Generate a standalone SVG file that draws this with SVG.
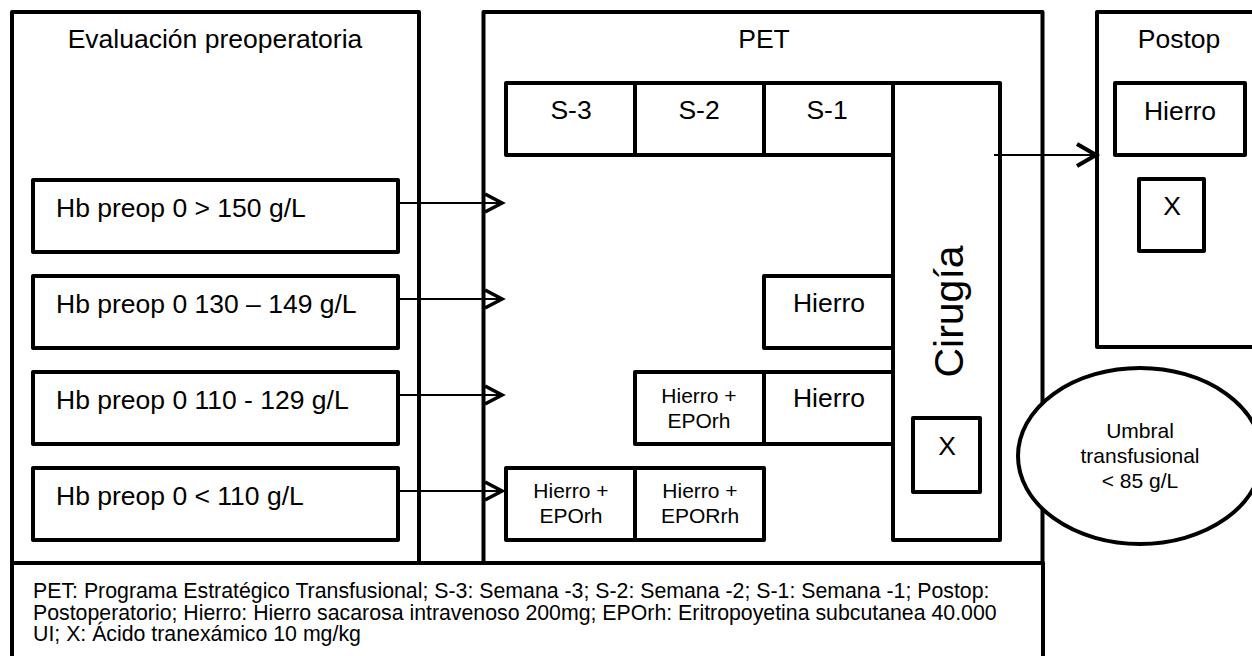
<svg xmlns="http://www.w3.org/2000/svg" width="1252" height="656" viewBox="0 0 1252 656">
<defs>
<style>
.box{fill:#fff;stroke:#000;stroke-width:4;stroke-linejoin:round}
.t{font-family:"Liberation Sans",Arial,sans-serif;font-size:26.5px;fill:#000}
.s{font-family:"Liberation Sans",Arial,sans-serif;font-size:21px;fill:#000}
.lg{font-family:"Liberation Sans",Arial,sans-serif;font-size:21.3px;fill:#000}
.c{text-anchor:middle}
.conn{stroke:#000;stroke-width:2.2;fill:none}
</style>
<marker id="chev" markerUnits="userSpaceOnUse" markerWidth="30" markerHeight="30" viewBox="-24 -15 30 30" refX="0" refY="0" orient="auto">
<path d="M-17,-9 L0,0 L-17,9" fill="none" stroke="#000" stroke-width="3.6"/>
</marker>
<marker id="chev2" markerUnits="userSpaceOnUse" markerWidth="34" markerHeight="34" viewBox="-26 -17 34 34" refX="0" refY="0" orient="auto">
<path d="M-19,-11 L0,0 L-19,11" fill="none" stroke="#000" stroke-width="4.2"/>
</marker>
</defs>
<rect width="1252" height="656" fill="#fff"/>

<g id="legend">
<rect class="box" x="12" y="563" width="1031" height="120"/>
<text class="lg" x="33" y="598">PET: Programa Estratégico Transfusional; S-3: Semana -3; S-2: Semana -2; S-1: Semana -1; Postop:</text>
<text class="lg" x="33" y="619.5">Postoperatorio; Hierro: Hierro sacarosa intravenoso 200mg; EPOrh: Eritropoyetina subcutanea 40.000</text>
<text class="lg" x="33" y="641">UI; X: Ácido tranexámico 10 mg/kg</text>
</g>

<g id="evaluacion">
<rect class="box" x="12" y="12" width="407" height="551"/>
<text class="t c" x="215" y="48">Evaluación preoperatoria</text>
</g>

<g id="hb1"><rect class="box" x="33" y="180" width="365" height="72"/><text class="t" x="56" y="217">Hb preop 0 &gt; 150 g/L</text></g>
<g id="hb2"><rect class="box" x="33" y="276" width="365" height="72"/><text class="t" x="56" y="313">Hb preop 0 130 – 149 g/L</text></g>
<g id="hb3"><rect class="box" x="33" y="372" width="365" height="72"/><text class="t" x="56" y="409">Hb preop 0 110 - 129 g/L</text></g>
<g id="hb4"><rect class="box" x="33" y="468" width="365" height="72"/><text class="t" x="56" y="505">Hb preop 0 &lt; 110 g/L</text></g>

<g id="pet">
<rect class="box" x="483.5" y="12" width="559" height="551"/>
<text class="t c" x="764" y="48">PET</text>
</g>

<g id="s3"><rect class="box" x="506" y="83" width="129" height="72"/><text class="t c" x="571" y="119">S-3</text></g>
<g id="s2"><rect class="box" x="635" y="83" width="129" height="72"/><text class="t c" x="699" y="119">S-2</text></g>
<g id="s1"><rect class="box" x="764" y="83" width="129" height="72"/><text class="t c" x="827" y="119">S-1</text></g>

<g id="cirugia">
<rect class="box" x="893" y="83" width="107" height="457"/>
<text class="t c" style="font-size:41px" transform="translate(963,311.5) rotate(-90)">Cirugía</text>
</g>
<g id="cirugia-x"><rect class="box" x="913" y="418" width="67" height="74"/><text class="t c" x="947" y="455">X</text></g>

<g id="r2-hierro"><rect class="box" x="764" y="276" width="129" height="72"/><text class="t c" x="829" y="312">Hierro</text></g>
<g id="r3-he"><rect class="box" x="635" y="372" width="129" height="72"/><text class="s c" x="699" y="403">Hierro +</text><text class="s c" x="699" y="428">EPOrh</text></g>
<g id="r3-hierro"><rect class="box" x="764" y="372" width="129" height="72"/><text class="t c" x="829" y="407">Hierro</text></g>
<g id="r4-he1"><rect class="box" x="506" y="468" width="129" height="72"/><text class="s c" x="571" y="498">Hierro +</text><text class="s c" x="571" y="523">EPOrh</text></g>
<g id="r4-he2"><rect class="box" x="635" y="468" width="129" height="72"/><text class="s c" x="700" y="498">Hierro +</text><text class="s c" x="700" y="523">EPORrh</text></g>

<g id="postop">
<rect class="box" x="1097" y="12" width="200" height="335"/>
<text class="t c" x="1179" y="48">Postop</text>
</g>
<g id="postop-hierro"><rect class="box" x="1115" y="83" width="130" height="72"/><text class="t c" x="1180" y="120">Hierro</text></g>
<g id="postop-x"><rect class="box" x="1139" y="179" width="65" height="72"/><text class="t c" x="1172" y="215">X</text></g>

<g id="umbral">
<ellipse class="box" cx="1140" cy="456" rx="122" ry="88"/>
<text class="s c" x="1140" y="438">Umbral</text>
<text class="s c" x="1140" y="463">transfusional</text>
<text class="s c" x="1140" y="488">&lt; 85 g/L</text>
</g>

<g id="connectors">
<line class="conn" x1="398" y1="203" x2="502" y2="203" marker-end="url(#chev)"/>
<line class="conn" x1="398" y1="299" x2="502" y2="299" marker-end="url(#chev)"/>
<line class="conn" x1="398" y1="395" x2="502" y2="395" marker-end="url(#chev)"/>
<line class="conn" x1="398" y1="491" x2="502" y2="491" marker-end="url(#chev)"/>
<line class="conn" x1="994" y1="155" x2="1096" y2="155" marker-end="url(#chev2)"/>
</g>
</svg>
